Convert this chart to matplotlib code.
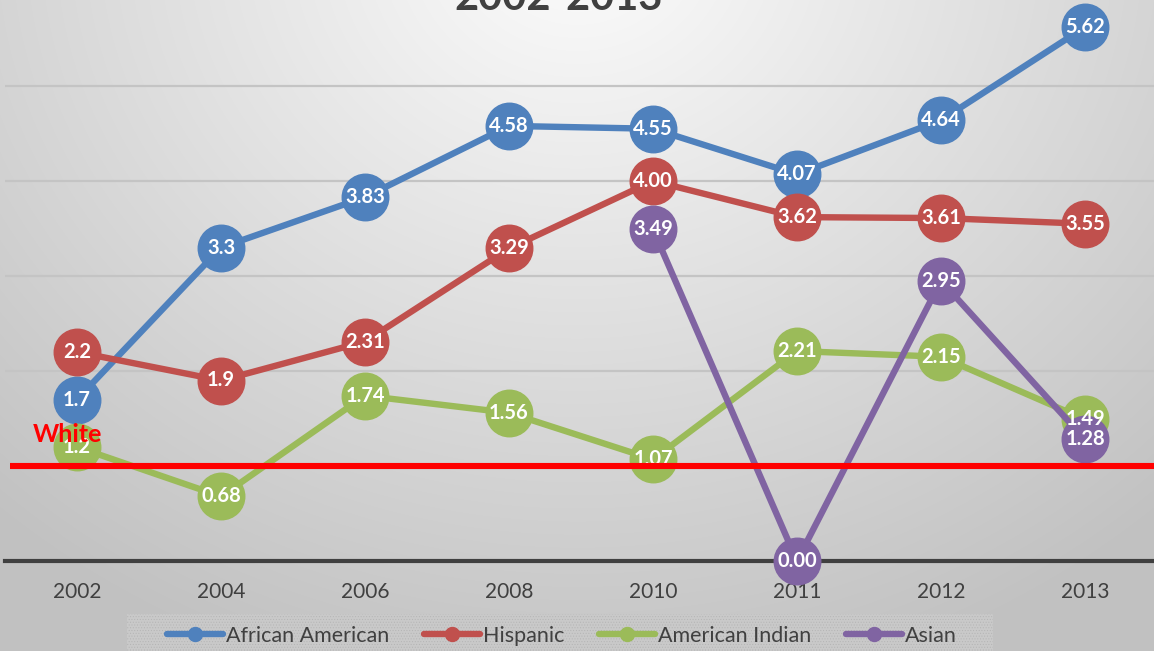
import numpy as np
import matplotlib
matplotlib.use('Agg')
import matplotlib.pyplot as plt
from matplotlib.patches import Rectangle

plt.rcParams['font.family'] = ['Lato', 'DejaVu Sans']
plt.rcParams['hatch.linewidth'] = 0.4

years = ['2002', '2004', '2006', '2008', '2010', '2011', '2012', '2013']
african = [1.7, 3.3, 3.83, 4.58, 4.55, 4.07, 4.64, 5.62]
african_lbl = ['1.7', '3.3', '3.83', '4.58', '4.55', '4.07', '4.64', '5.62']
hispanic = [2.2, 1.9, 2.31, 3.29, 4.00, 3.62, 3.61, 3.55]
hispanic_lbl = ['2.2', '1.9', '2.31', '3.29', '4.00', '3.62', '3.61', '3.55']
am_indian = [1.2, 0.68, 1.74, 1.56, 1.07, 2.21, 2.15, 1.49]
am_indian_lbl = ['1.2', '0.68', '1.74', '1.56', '1.07', '2.21', '2.15', '1.49']
asian = [np.nan, np.nan, np.nan, np.nan, 3.49, 0.00, 2.95, 1.28]
asian_lbl = ['', '', '', '', '3.49', '0.00', '2.95', '1.28']
white_level = 1.0

series = [
    ('African American', african, african_lbl, '#4F81BD'),
    ('Hispanic', hispanic, hispanic_lbl, '#C0504D'),
    ('American Indian', am_indian, am_indian_lbl, '#9BBB59'),
    ('Asian', asian, asian_lbl, '#8064A2'),
]

W, H = 1154, 651
fig = plt.figure(figsize=(W / 100, H / 100), dpi=100)

# background gradient
bg = fig.add_axes([0, 0, 1, 1], zorder=-10)
yy, xx = np.mgrid[0:H, 0:W]
r = np.sqrt(((xx - 577) / 900.0) ** 2 + ((yy + 60) / 800.0) ** 2)
val = np.clip(0.99 - 0.24 * r, 0.76, 1)
bg.imshow(np.dstack([val, val, val]), aspect='auto', extent=[0, 1, 0, 1], origin='upper')
bg.axis('off')

ax = fig.add_axes([5 / W, 90 / H, 1152 / W, 570 / H])
ax.patch.set_alpha(0)
x = np.arange(len(years))

for name, vals, lbls, col in series:
    ax.plot(x, vals, color=col, lw=4.6, marker='o', ms=33.5, label=name,
            solid_capstyle='round', zorder=3, clip_on=False)

for name, vals, lbls, col in series:
    for xi, v, s in zip(x, vals, lbls):
        if s:
            ax.text(xi, v, s, color='white', fontsize=14.5, fontweight='bold',
                    ha='center', va='center', zorder=5, clip_on=False)

ax.plot([-0.465, 7.5], [white_level, white_level], color='#FF0000', lw=4.4,
        zorder=6, clip_on=False, solid_capstyle='butt')
ax.text(-0.306, 1.253, 'White', color='#FF0000', fontsize=18, fontweight='bold',
        ha='left', va='baseline', zorder=7)

ax.set_xlim(-0.5, 7.5)
ax.set_ylim(0, 6)
ax.set_yticks([1, 2, 3, 4, 5, 6])
ax.yaxis.grid(True, color='#c4c4c4', lw=1.6)
ax.set_axisbelow(True)
ax.set_yticklabels([])
ax.tick_params(axis='y', length=0)
ax.set_xticks(x)
ax.set_xticklabels(years, fontsize=15, color='#404040')
ax.tick_params(axis='x', length=0, pad=15)
for s in ['top', 'right', 'left']:
    ax.spines[s].set_visible(False)
ax.spines['bottom'].set_color('#404040')
ax.spines['bottom'].set_linewidth(3)

fig.text(559 / W, 1 - 10 / H, '2002-2013', fontsize=30, fontweight='bold',
         color='#404040', ha='center', va='baseline')

# legend box
fig.patches.append(Rectangle((127 / W, 0), (993 - 127) / W, 37 / H,
                             transform=fig.transFigure, facecolor='#c9c9c9',
                             edgecolor='#b4b4b4', hatch='......', lw=0, zorder=1))
handles, labels = ax.get_legend_handles_labels()
leg = fig.legend(handles, labels, ncol=4, loc='center', bbox_to_anchor=(562 / W, 15 / H),
                 frameon=False, fontsize=15.5, handlelength=2.6, handletextpad=0.15,
                 columnspacing=1.6, markerscale=0.3, labelcolor='#404040')
for h in leg.legend_handles:
    h.set_linewidth(4.6)

fig.savefig('out.png', dpi=100)
